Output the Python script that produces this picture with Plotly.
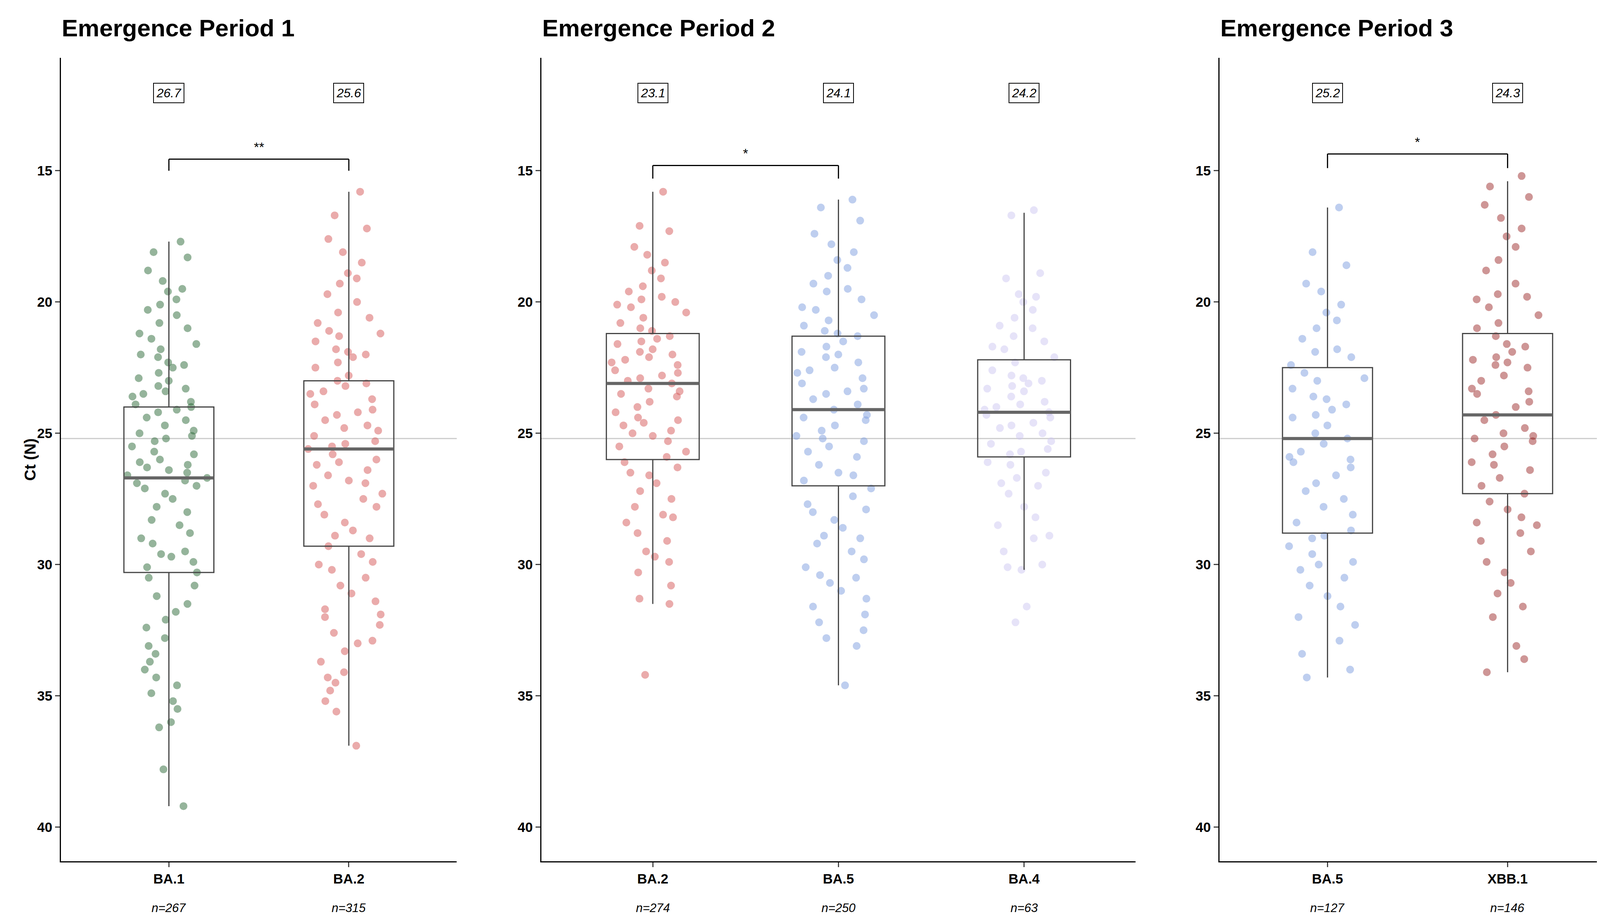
import plotly.graph_objects as go

W, H = 4133, 2362
FONT = "Liberation Sans"

panels = [
    {"title": "Emergence Period 1", "cats": ["BA.1", "BA.2"], "n": [267, 315],
     "labels": ["26.7", "25.6"], "sig": ("**", 0, 1, 14.56, 15.0)},
    {"title": "Emergence Period 2", "cats": ["BA.2", "BA.5", "BA.4"], "n": [274, 250, 63],
     "labels": ["23.1", "24.1", "24.2"], "sig": ("*", 0, 1, 14.8, 15.3)},
    {"title": "Emergence Period 3", "cats": ["BA.5", "XBB.1"], "n": [127, 146],
     "labels": ["25.2", "24.3"], "sig": ("*", 0, 1, 14.36, 14.9)},
]

# box stats: q1, median, q3, lower whisker, upper whisker
stats = [
    [(24.0, 26.7, 30.3, 17.7, 39.2), (23.0, 25.6, 29.3, 15.8, 36.9)],
    [(21.2, 23.1, 26.0, 15.8, 31.5), (21.3, 24.1, 27.0, 16.1, 34.6), (22.2, 24.2, 25.9, 16.6, 30.2)],
    [(22.5, 25.2, 28.8, 16.4, 34.3), (21.2, 24.3, 27.3, 15.4, 34.1)],
]

ba1_p1 = [17.7,18.1,18.3,18.8,19.2,19.5,19.6,19.9,20.1,20.3,20.5,20.8,21.0,21.2,21.4,21.6,21.8,22.0,22.1,22.3,22.5,22.7,22.9,23.0,23.2,23.3,23.5,23.6,23.8,23.9,24.0,24.2,24.4,24.5,24.7,24.9,25.0,25.2,25.3,25.5,25.7,25.8,26.0,26.1,26.3,26.4,26.5,26.6,26.7,26.8,26.9,27.1,27.3,27.5,27.8,28.0,28.3,28.5,28.8,29.0,29.2,29.5,29.7,29.9,30.1,30.3,30.5,30.8,31.2,31.5,31.8,32.1,32.4,32.8,33.1,33.4,33.7,34.0,34.3,34.6,34.9,35.2,35.5,36.0,36.2,37.8,39.2,23.4,24.1,25.1,26.2,22.4,27.0,29.6]
ba2_p1 = [15.8,16.7,17.2,17.6,18.1,18.5,18.9,19.3,19.7,20.0,20.4,20.8,21.1,21.3,21.5,21.8,22.0,22.3,22.5,22.8,23.0,23.2,23.4,23.7,23.9,24.1,24.3,24.5,24.7,24.9,25.1,25.3,25.5,25.6,25.8,26.0,26.2,26.4,26.6,26.8,27.0,27.3,27.5,27.8,28.1,28.4,28.7,29.0,29.3,29.6,29.9,30.2,30.5,30.8,31.1,31.4,31.7,32.0,32.3,32.6,32.9,33.3,33.7,34.1,34.5,34.8,35.2,35.6,36.9,21.2,22.1,23.5,24.2,24.8,25.4,26.1,26.9,27.7,28.9,21.9,23.1,20.6,19.1,30.0,31.9,33.0,34.3]
ba2_p2 = [15.8,17.1,17.3,17.9,18.2,18.5,18.8,19.1,19.4,19.6,19.8,20.0,20.2,20.4,20.6,20.8,21.0,21.1,21.3,21.5,21.6,21.8,22.0,22.1,22.3,22.4,22.6,22.8,22.9,23.0,23.1,23.3,23.4,23.6,23.8,24.0,24.2,24.4,24.5,24.7,24.9,25.1,25.3,25.5,25.7,25.9,26.1,26.3,26.6,26.9,27.2,27.5,27.8,28.1,28.4,28.8,29.1,29.5,29.9,30.3,30.8,31.3,31.5,34.2,20.1,21.4,22.2,22.7,23.5,24.6,19.9,21.9,25.0,26.5,29.7,28.2]
ba5_p2 = [16.1,16.4,16.9,17.4,17.8,18.1,18.4,18.7,19.0,19.3,19.6,19.9,20.2,20.5,20.7,20.9,21.1,21.3,21.5,21.7,21.9,22.1,22.3,22.5,22.7,22.9,23.1,23.3,23.5,23.7,23.9,24.1,24.3,24.5,24.7,24.9,25.1,25.3,25.5,25.7,25.9,26.2,26.5,26.8,27.1,27.4,27.7,28.0,28.3,28.6,28.9,29.2,29.5,29.8,30.1,30.4,30.7,31.0,31.3,31.6,31.9,32.2,32.5,32.8,33.1,34.6,21.2,22.0,22.6,23.4,24.4,25.2,20.3,19.5,26.6,27.9,29.0,30.5]
ba4_p2 = [16.5,16.7,18.9,19.1,19.7,20.0,20.3,20.6,21.0,21.3,21.8,22.3,22.6,22.9,23.0,23.2,23.4,23.6,23.8,24.0,24.1,24.2,24.4,24.6,24.8,25.0,25.3,25.6,25.8,26.1,26.5,26.9,27.3,27.8,28.2,28.5,29.0,29.5,30.0,30.2,31.6,32.2,21.5,22.1,23.1,23.9,24.3,25.1,25.7,26.2,27.0,22.8,20.9,24.7,25.4,23.3,26.7,28.9,21.7,19.8,30.1]
ba5_p3 = [16.4,18.1,18.6,19.3,19.6,20.1,20.4,20.7,21.0,21.4,21.8,22.1,22.4,22.7,23.0,23.3,23.6,23.9,24.1,24.4,24.7,25.0,25.2,25.4,25.7,26.0,26.3,26.6,26.9,27.2,27.5,27.8,28.1,28.4,28.7,29.0,29.3,29.6,29.9,30.2,30.5,30.8,31.2,31.6,32.0,32.3,32.9,33.4,34.0,34.3,22.9,24.3,25.9,23.7,28.9,26.1,21.9,30.0]
xbb1_p3 = [15.2,15.6,16.0,16.3,16.8,17.2,17.5,17.9,18.4,18.8,19.3,19.7,19.9,20.2,20.5,20.8,21.0,21.3,21.6,21.9,22.1,22.3,22.5,22.8,23.0,23.3,23.5,23.8,24.0,24.3,24.5,24.8,25.0,25.2,25.5,25.8,26.1,26.4,26.7,27.0,27.3,27.6,27.9,28.2,28.5,28.8,29.1,29.5,29.9,30.3,30.7,31.1,31.6,32.0,33.1,33.6,34.1,22.2,22.4,25.1,25.3,21.7,19.8,26.2,23.4,28.4]

points = [[ba1_p1, ba2_p1], [ba2_p2, ba5_p2, ba4_p2], [ba5_p3, xbb1_p3]]
colors = [["#2e6b3a", "#d65a5a"], ["#d65a5a", "#7f9fe0", "#cfc8f2"], ["#7f9fe0", "#9e2f2f"]]

ref_line = 25.2
label_y = 12.04
domains = [[0.0358, 0.281], [0.3334, 0.7014], [0.7534, 0.9988]]

fig = go.Figure()
layout = dict(width=W, height=H, plot_bgcolor="white", paper_bgcolor="white",
              margin=dict(l=0, r=0, t=140, b=166), showlegend=False,
              font=dict(family=FONT, size=34, color="black"), boxmode="overlay")
annotations, shapes = [], []

for i, p in enumerate(panels):
    sfx = "" if i == 0 else str(i + 1)
    xa, ya = "x" + sfx, "y" + sfx
    nc = len(p["cats"])
    for j, cat in enumerate(p["cats"]):
        fig.add_trace(go.Box(x=[cat] * len(points[i][j]), y=points[i][j], xaxis=xa, yaxis=ya,
                             boxpoints="all", jitter=0.95, pointpos=0, width=0.5,
                             line=dict(width=0, color="rgba(0,0,0,0)"), fillcolor="rgba(0,0,0,0)",
                             marker=dict(size=16, color=colors[i][j], opacity=0.5,
                                         line=dict(width=4, color=colors[i][j])),
                             hoverinfo="skip"))
        q1, med, q3, lo, hi = stats[i][j]
        fig.add_trace(go.Box(x=[cat], q1=[q1], median=[med], q3=[q3], lowerfence=[lo],
                             upperfence=[hi], xaxis=xa, yaxis=ya, width=0.5, whiskerwidth=0,
                             line=dict(width=3, color="#444444"), fillcolor="rgba(0,0,0,0)",
                             boxpoints=False, hoverinfo="skip"))
        shapes.append(dict(type="line", xref=xa, yref=ya, x0=j - 0.25, x1=j + 0.25, y0=med, y1=med,
                           line=dict(color="#666666", width=8)))
        annotations.append(dict(x=cat, y=label_y, xref=xa, yref=ya, text="<i>%s</i>" % p["labels"][j],
                                showarrow=False, bordercolor="black", borderwidth=2, borderpad=6,
                                bgcolor="white", font=dict(size=32), xanchor="center"))
        annotations.append(dict(x=cat, y=-0.058, xref=xa, yref="paper", text="<i>n=%d</i>" % p["n"][j],
                                showarrow=False, font=dict(size=31), yanchor="middle"))
    s, a, b, top, end = p["sig"]
    xs = [p["cats"][a], p["cats"][b]]
    for xx in xs:
        shapes.append(dict(type="line", xref=xa, yref=ya, x0=xx, x1=xx, y0=end, y1=top,
                           line=dict(color="black", width=3)))
    shapes.append(dict(type="line", xref=xa, yref=ya, x0=xs[0], x1=xs[1], y0=top, y1=top,
                       line=dict(color="black", width=3)))
    annotations.append(dict(x=0.5, y=top - 0.15, xref=xa, yref=ya, text=s, showarrow=False,
                            yanchor="bottom", font=dict(size=34)))
    shapes.append(dict(type="line", xref=xa + " domain", yref=ya, x0=0, x1=1, y0=ref_line, y1=ref_line,
                       line=dict(color="#cccccc", width=3), layer="below"))
    annotations.append(dict(x=domains[i][0], y=1.0, xref="paper", yref="paper", yshift=40,
                            text="<b>%s</b>" % p["title"], showarrow=False, xanchor="left",
                            yanchor="bottom", font=dict(size=62)))
    layout["xaxis" + sfx] = dict(domain=domains[i], anchor=ya, type="category", range=[-0.6, nc - 0.4],
                                 showline=True, linecolor="black", linewidth=3, ticks="outside",
                                 ticklen=12, tickwidth=3, showgrid=False,
                                 tickfont=dict(size=35, family=FONT, weight="bold"))
    layout["yaxis" + sfx] = dict(domain=[0, 1], anchor=xa, range=[41.3, 10.7], showline=True,
                                 linecolor="black", linewidth=3, ticks="outside", ticklen=12,
                                 tickwidth=3, showgrid=False, zeroline=False,
                                 tickvals=[15, 20, 25, 30, 35, 40],
                                 tickfont=dict(size=35, family=FONT, weight="bold"))

annotations.append(dict(x=0.011, y=0.5, xref="paper", yref="paper", text="<b>Ct (N)</b>",
                        showarrow=False, textangle=-90, font=dict(size=40)))
layout["annotations"] = annotations
layout["shapes"] = shapes
fig.update_layout(**layout)
fig.write_html("out.html")
